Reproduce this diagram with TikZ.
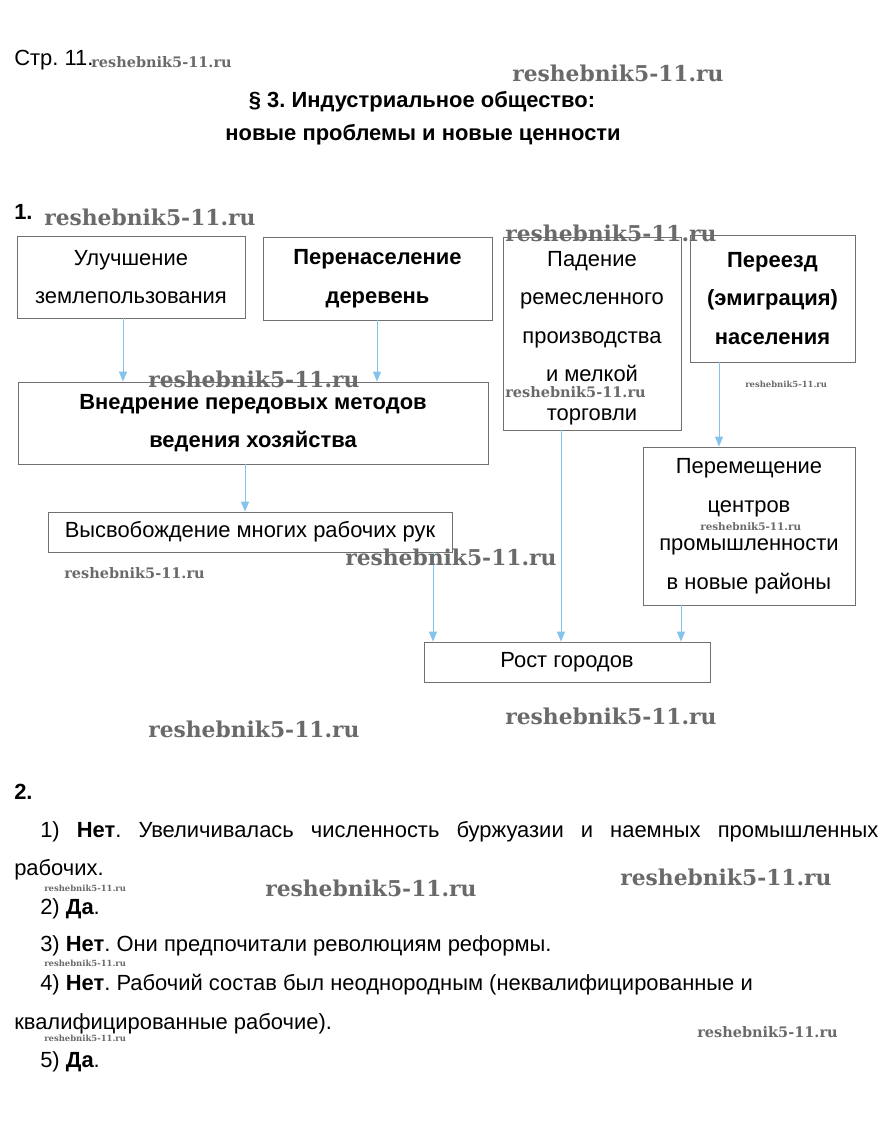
\documentclass[tikz,border=0pt]{standalone}
\usepackage{fontspec}
\setmainfont{Liberation Sans}
\newfontfamily\wmfont{DejaVu Serif}
\usepackage{tikz}
\usetikzlibrary{arrows.meta,positioning}
\definecolor{linkblue}{HTML}{84C4EA}
\definecolor{framegray}{HTML}{707070}
\definecolor{markgray}{HTML}{6A6A6A}
\newcommand{\site}{reshebnik5-11.ru}
\frenchspacing

\begin{document}
\begin{tikzpicture}[x=0.025cm,y=-0.025cm,
    cell/.style={draw=framegray,line width=0.6pt,inner sep=0pt,align=center,font=\fontsize{15.6}{27.4}\selectfont},
    cellb/.style={cell,font=\fontsize{15.6}{27.4}\selectfont\bfseries},
    feed/.style={linkblue,line width=0.7pt,-{Triangle[length=2.5mm,width=2mm]}},
    txt/.style={anchor=base west,inner sep=0pt,font=\fontsize{15.6}{19}\selectfont},
    wm/.style={anchor=west,inner sep=0pt,text=markgray,font={\wmfont\fontsize{#1}{#1}\selectfont\bfseries}}]
    \fill[white] (0,0) rectangle (890,1121);
    \useasboundingbox (0,0) rectangle (890,1121);

    \node[txt] (page) at (14,65) {Стр. 11.};
    \node[txt,anchor=base,font=\fontsize{15.6}{19}\selectfont\bfseries] (head1) at (422,107) {§ 3. Индустриальное общество:};
    \node[txt,anchor=base,font=\fontsize{15.6}{19}\selectfont\bfseries] (head2) at (423,140) {новые проблемы и новые ценности};
    \node[txt,font=\fontsize{15.6}{19}\selectfont\bfseries] (task1) at (14,219) {1.};

    \node[cell,minimum width=5.7cm,minimum height=2.05cm] (land) at (131,277) {Улучшение\\землепользования};
    \node[cellb,minimum width=5.725cm,minimum height=2.075cm] (over) at (377.5,278.5) {Перенаселение\\деревень};
    \node[cellb,minimum width=11.75cm,minimum height=2.05cm] (method) at (253,423) {Внедрение передовых методов\\ведения хозяйства};
    \node[cell,minimum width=10.1cm,minimum height=1cm] (hands) at (250,532) {Высвобождение многих рабочих рук};
    \node[cell,minimum width=4.45cm,minimum height=4.825cm] (craft) at (592,333.5) {\rule{0pt}{17pt}Падение\\ремесленного\\производства\\и мелкой\\торговли};
    \node[cellb,minimum width=4.125cm,minimum height=3.175cm] (move) at (772.5,298.5) {Переезд\\(эмиграция)\\населения};
    \node[cell,minimum width=5.3cm,minimum height=3.95cm] (centres) at (749,526) {Перемещение\\центров\\промышленности\\в новые районы};
    \node[cell,minimum width=7.15cm,minimum height=1cm] (towns) at (567,662) {Рост городов};

    \draw[feed] (land.south -| 123,0) -- (method.north -| 123,0);
    \draw[feed] (over.south -| 377,0) -- (method.north -| 377,0);
    \draw[feed] (method.south -| 245,0) -- (hands.north -| 245,0);
    \draw[feed] (hands.south -| 433,0) -- (towns.north -| 433,0);
    \draw[feed] (craft.south -| 561,0) -- (towns.north -| 561,0);
    \draw[feed] (move.south -| 719,0) -- (centres.north -| 719,0);
    \draw[feed] (centres.south -| 681,0) -- (towns.north -| 681,0);

    \node[txt,font=\fontsize{15.6}{19}\selectfont\bfseries] (task2) at (14,799) {2.};
    \node[txt] (ans1) at (40,837) {\makebox[20.95cm][s]{1) \textbf{Нет}. Увеличивалась численность буржуазии и наемных промышленных}};
    \node[txt] (ans1b) at (14,875) {рабочих.};
    \node[txt] (ans2) at (40,914) {2) \textbf{Да}.};
    \node[txt] (ans3) at (40,951) {3) \textbf{Нет}. Они предпочитали революциям реформы.};
    \node[txt] (ans4) at (40,990) {4) \textbf{Нет}. Рабочий состав был неоднородным (неквалифицированные и};
    \node[txt] (ans4b) at (14,1029) {квалифицированные рабочие).};
    \node[txt] (ans5) at (40,1067) {5) \textbf{Да}.};

    \node[wm=10.3] (mk1) at (91,62) {\site};
    \node[wm=15.5] (mk2) at (512,73) {\site};
    \node[wm=15.5] (mk3) at (44,217) {\site};
    \node[wm=15.5] (mk4) at (505,233) {\site};
    \node[wm=15.5] (mk5) at (148,379) {\site};
    \node[wm=10.3] (mk6) at (505,392) {\site};
    \node[wm=6] (mk7) at (745,384) {\site};
    \node[wm=7.4] (mk8) at (700,527) {\site};
    \node[wm=15.5] (mk9) at (345,557) {\site};
    \node[wm=10.3] (mk10) at (64,573) {\site};
    \node[wm=15.5] (mk11) at (505,716) {\site};
    \node[wm=15.5] (mk12) at (148,729) {\site};
    \node[wm=6] (mk13) at (44,888) {\site};
    \node[wm=15.5] (mk14) at (265,888) {\site};
    \node[wm=15.5] (mk15) at (620,877) {\site};
    \node[wm=6] (mk16) at (44,963) {\site};
    \node[wm=6] (mk17) at (44,1038) {\site};
    \node[wm=10.3] (mk18) at (697,1032) {\site};
  \end{tikzpicture}
\end{document}
